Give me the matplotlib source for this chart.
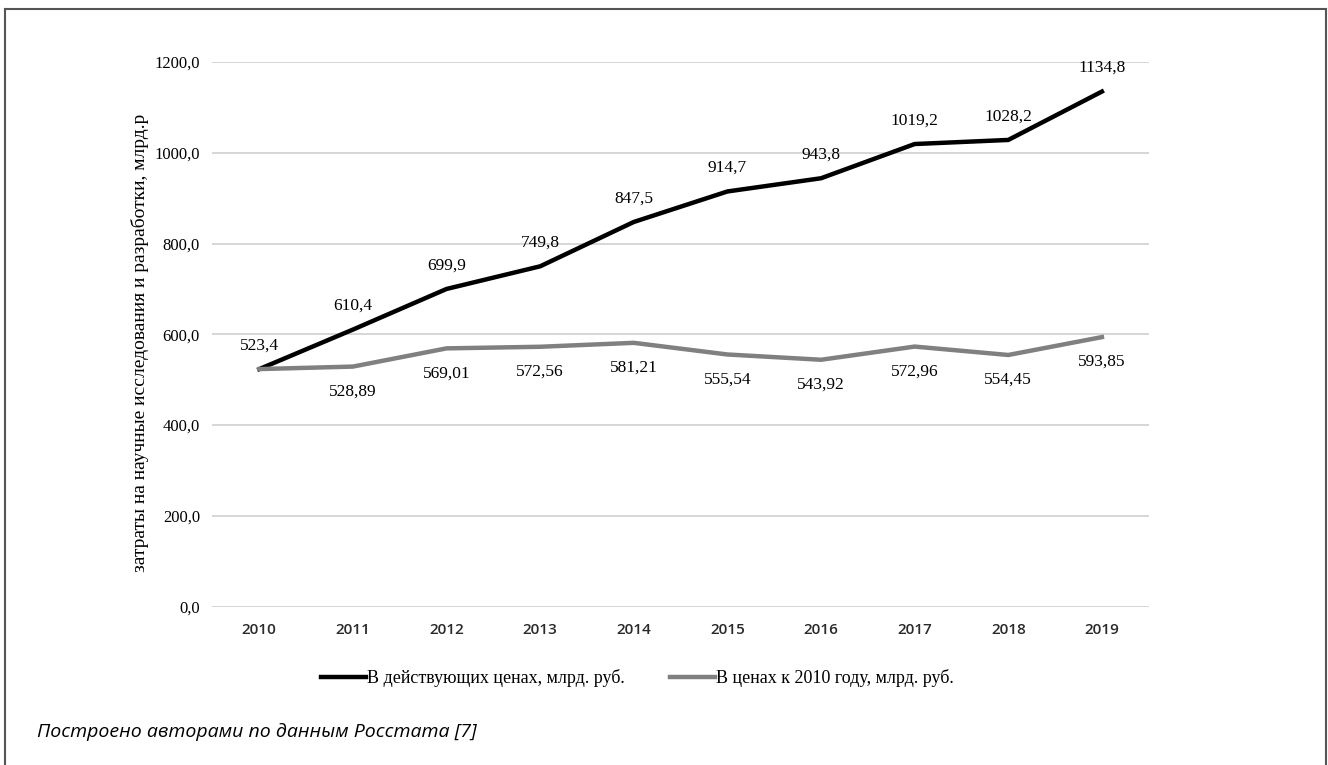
import matplotlib
matplotlib.use("Agg")
import matplotlib.pyplot as plt
from matplotlib.lines import Line2D

# --- Data ---
years = ["2010", "2011", "2012", "2013", "2014", "2015", "2016", "2017", "2018", "2019"]
current_prices = [523.4, 610.4, 699.9, 749.8, 847.5, 914.7, 943.8, 1019.2, 1028.2, 1134.8]
prices_2010 = [523.4, 528.89, 569.01, 572.56, 581.21, 555.54, 543.92, 572.96, 554.45, 593.85]
yticks = [0, 200, 400, 600, 800, 1000, 1200]

label_current = "В действующих ценах, млрд. руб."
label_2010 = "В ценах к 2010 году, млрд. руб."
ylabel = "затраты на научные исследования и разработки, млрд.р"
caption = "Построено авторами по данным Росстата [7]"

serif = "Liberation Serif"

fig = plt.figure(figsize=(13.28, 7.65), dpi=100)
ax = fig.add_axes([0.160, 0.207, 0.705, 0.712])

x = list(range(len(years)))
ax.plot(x, current_prices, color="black", lw=3.2, solid_joinstyle="miter", label=label_current, zorder=3)
ax.plot(x, prices_2010, color="#808080", lw=3.2, solid_joinstyle="miter", label=label_2010, zorder=4)

# data labels: black above, grey below (first grey point has no label)
for i, v in enumerate(current_prices):
    ax.annotate(f"{v:.1f}".replace(".", ","), (i, v), xytext=(0, 17), textcoords="offset points",
                ha="center", va="center", fontsize=12.5, family=serif)
for i, v in enumerate(prices_2010):
    if i == 0:
        continue
    ax.annotate(f"{v:.2f}".replace(".", ","), (i, v), xytext=(0, -18), textcoords="offset points",
                ha="center", va="center", fontsize=12.5, family=serif)

ax.set_xlim(-0.5, len(years) - 0.5)
ax.set_ylim(0, 1200)
ax.set_yticks(yticks)
ax.set_yticklabels([f"{t:.1f}".replace(".", ",") for t in yticks], family=serif, fontsize=12)
ax.set_xticks(x)
ax.set_xticklabels(years, family="Open Sans", fontsize=11, color="#2a2a2a", fontweight="semibold")
ax.tick_params(axis="both", length=0)
ax.tick_params(axis="y", pad=9)
ax.tick_params(axis="x", pad=12)
ax.grid(axis="y", color="#d0d0d0", lw=1.2)
ax.set_axisbelow(True)
for s in ax.spines.values():
    s.set_visible(False)

ax.set_ylabel(ylabel, family=serif, fontsize=14)
ax.yaxis.set_label_coords(-0.068, 0.485)

fig.legend(loc="center", bbox_to_anchor=(0.48, 1 - 678 / 765), ncol=2, frameon=False,
           prop={"family": serif, "size": 13}, handlelength=2.5, handletextpad=0.05,
           columnspacing=2.5)

fig.text(0.028, 1 - 732 / 765, caption, fontsize=14, style="italic", family="Open Sans",
         va="center", ha="left")

# outer frame (left, top, right)
fx0, fx1, fy1 = 5 / 1328, 1326 / 1328, 1 - 9 / 765
for xs, ys in [([fx0, fx0], [0, fy1]), ([fx0, fx1], [fy1, fy1]), ([fx1, fx1], [fy1, 0])]:
    fig.add_artist(Line2D(xs, ys, color="#555555", lw=1.5, transform=fig.transFigure))

fig.savefig("out.png", dpi=100)
